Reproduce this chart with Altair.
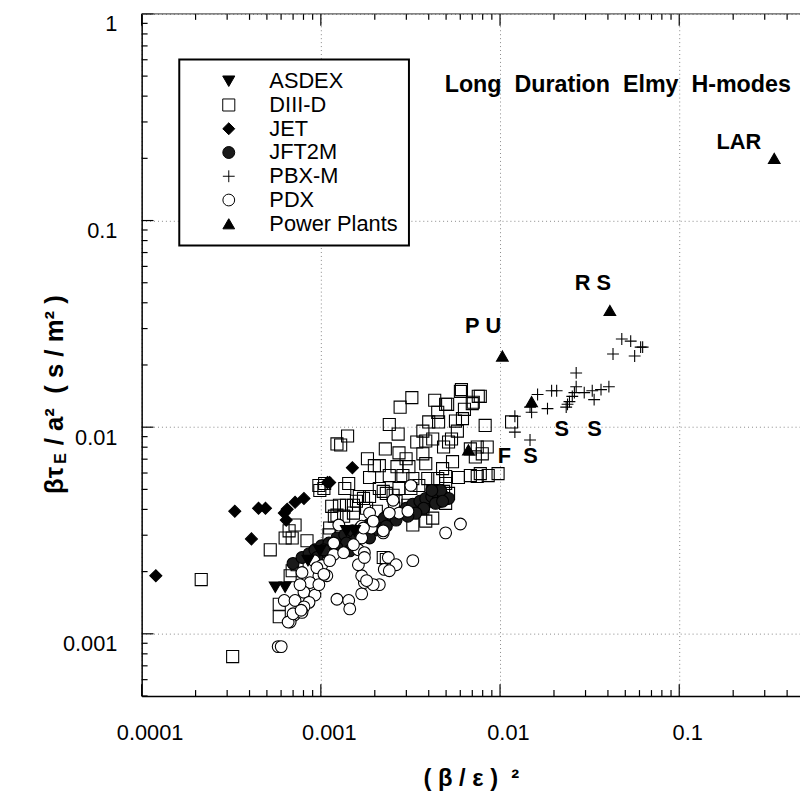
import math
import altair as alt
import pandas as pd

FONT = "Liberation Sans"
W, H = 665, 689

# ---------------- data ----------------
devices = ["ASDEX", "DIII-D", "JET", "JFT2M", "PBX-M", "PDX", "Power Plants"]

diii_x = [2.77e-3, 3.22e-3, 4.32e-3, 4.97e-3, 4.49e-3, 4.54e-3, 4.00e-3, 6.01e-3, 6.09e-3, 7.56e-3,
          7.00e-3, 6.33e-3, 6.17e-3, 5.64e-3, 8.26e-3, 0.0116, 2.41e-3, 2.70e-3, 3.71e-3, 3.43e-3,
          4.21e-3, 3.85e-3, 4.84e-3, 5.36e-3, 5.78e-3, 7.46e-3, 8.48e-3, 2.29e-3, 2.73e-3, 2.99e-3,
          3.71e-3, 3.85e-3, 5.43e-3, 4.78e-3, 4.97e-3, 5.86e-3, 7.46e-3, 8.59e-3, 9.75e-3, 1.41e-3,
          1.29e-3, 1.82e-3, 1.99e-3, 2.12e-3, 1.87e-3, 2.41e-3, 2.66e-3, 2.87e-3, 3.26e-3, 3.95e-3,
          4.49e-3, 4.97e-3, 1.43e-3, 9.75e-4, 1.05e-3, 1.36e-3, 1.64e-3, 1.87e-3, 2.12e-3, 2.32e-3,
          2.53e-3, 2.73e-3, 3.18e-3, 3.52e-3, 4.21e-3, 4.84e-3, 4.37e-3, 4.97e-3, 3.06e-3, 3.71e-3,
          1.15e-3, 1.27e-3, 1.52e-3, 1.80e-3, 2.04e-3, 3.85e-3, 3.26e-3, 4.21e-3, 9.87e-4, 1.04e-3,
          7.18e-4, 6.65e-4, 6.32e-4, 6.92e-4, 8.37e-4, 5.22e-4, 1.23e-3, 1.34e-3, 1.52e-3, 1.12e-3,
          1.11e-3, 7.37e-4, 6.92e-4, 6.74e-4, 5.86e-4, 5.86e-4, 3.22e-4, 2.15e-4, 2.23e-3, 2.32e-3,
          5.10e-3, 7.09e-3, 6.83e-3, 7.76e-3, 6.83e-3, 5.16e-3, 7.76e-3, 1.23e-3, 1.19e-3, 1.58e-3,
          1.73e-3, 1.39e-3, 2.63e-3, 2.23e-3, 5.16e-3, 7.28e-3, 7.96e-3, 3.10e-3]
diii_y = [0.0125, 0.0139, 0.0135, 0.0129, 0.0118, 0.0106, 0.0106, 0.0149, 0.0152, 0.0141,
          0.0130, 0.0122, 0.0110, 0.0107, 0.0102, 0.0106, 0.0103, 0.00926, 0.00957, 0.00848,
          0.00877, 0.00857, 0.00802, 0.00877, 0.00957, 0.00802, 0.00802, 0.00785, 0.00751, 0.00703,
          0.00743, 0.00666, 0.00681, 0.00630, 0.00577, 0.00571, 0.00577, 0.00583, 0.00596, 0.00906,
          0.00820, 0.00703, 0.00651, 0.00651, 0.00571, 0.00583, 0.00644, 0.00583, 0.00564, 0.00564,
          0.00564, 0.00534, 0.00534, 0.00522, 0.00534, 0.00505, 0.00462, 0.00462, 0.00505, 0.00478,
          0.00468, 0.00505, 0.00505, 0.00522, 0.00489, 0.00489, 0.00438, 0.00428, 0.00419, 0.00405,
          0.00414, 0.00419, 0.00419, 0.00405, 0.00392, 0.00351, 0.00336, 0.00363, 0.00494, 0.00505,
          0.00336, 0.00315, 0.00291, 0.00291, 0.00282, 0.00255, 0.00375, 0.00371, 0.00384, 0.00325,
          0.00301, 0.00216, 0.00202, 0.00191, 0.00139, 0.00121, 0.000776, 0.00183, 0.00234, 0.00229,
          0.0129, 0.0132, 0.00785, 0.00596, 0.00583, 0.00848, 0.0141, 0.00830, 0.00371, 0.00438,
          0.00452, 0.00419, 0.00438, 0.00489, 0.00478, 0.00718, 0.00743, 0.00644]

jft_x = [7.00e-4, 7.85e-4, 8.59e-4, 9.27e-4, 1.01e-3, 1.11e-3, 1.23e-3, 1.36e-3, 1.50e-3, 1.66e-3,
         1.84e-3, 2.04e-3, 2.26e-3, 2.47e-3, 2.70e-3, 2.99e-3, 3.26e-3, 3.57e-3, 3.85e-3, 4.16e-3,
         4.49e-3, 4.84e-3, 5.16e-3, 4.37e-3, 3.75e-3, 3.39e-3, 3.06e-3, 2.63e-3, 2.32e-3, 2.04e-3,
         1.80e-3, 1.58e-3, 1.39e-3, 1.23e-3, 1.08e-3, 9.51e-4, 4.66e-3, 4.16e-3, 4.78e-3, 1.87e-3,
         1.04e-3, 1.45e-3]
jft_y = [0.00219, 0.00234, 0.00244, 0.00255, 0.00267, 0.00275, 0.00291, 0.00301, 0.00315, 0.00325,
         0.00336, 0.00347, 0.00363, 0.00375, 0.00388, 0.00405, 0.00424, 0.00438, 0.00452, 0.00462,
         0.00473, 0.00462, 0.00452, 0.00428, 0.00405, 0.00384, 0.00371, 0.00355, 0.00332, 0.00318,
         0.00301, 0.00288, 0.00275, 0.00261, 0.00247, 0.00234, 0.00494, 0.00494, 0.00438, 0.00291,
         0.00255, 0.00252]

pdx_x = [3.18e-3, 2.56e-3, 2.73e-3, 3.06e-3, 1.87e-3, 2.41e-3, 1.69e-3, 1.91e-3, 2.23e-3, 1.69e-3,
         1.18e-3, 4.97e-3, 6.01e-3, 2.53e-3, 2.23e-3, 2.38e-3, 2.63e-3, 2.26e-3, 2.41e-3, 3.26e-3,
         2.12e-3, 1.18e-3, 9.15e-4, 1.01e-3, 9.75e-4, 1.08e-3, 7.85e-4, 8.70e-4, 8.05e-4, 9.27e-4,
         8.59e-4, 9.75e-4, 7.65e-4, 6.25e-4, 7.18e-4, 8.05e-4, 7.09e-4, 7.85e-4, 6.74e-4, 9.51e-4,
         1.62e-3, 1.75e-3, 1.23e-3, 1.43e-3, 1.45e-3, 1.69e-3, 1.75e-3, 1.69e-3, 1.96e-3, 1.12e-3,
         1.04e-3, 1.26e-3, 1.73e-3, 1.96e-3, 1.52e-3, 1.34e-3, 5.78e-4, 6.01e-4, 6.57e-4, 7.00e-4,
         7.76e-4, 1.62e-3, 1.75e-3, 1.80e-3]
pdx_y = [0.00522, 0.00424, 0.00384, 0.00392, 0.00384, 0.00384, 0.00332, 0.00325, 0.00308, 0.00291,
         0.00275, 0.00308, 0.00340, 0.00443, 0.00315, 0.00234, 0.00216, 0.00205, 0.00202, 0.00226,
         0.00173, 0.00242, 0.00226, 0.00214, 0.00191, 0.00191, 0.00198, 0.00177, 0.00159, 0.00154,
         0.00142, 0.00173, 0.00173, 0.00145, 0.00145, 0.00135, 0.00123, 0.00127, 0.00114, 0.00209,
         0.00255, 0.00247, 0.00147, 0.00145, 0.00132, 0.00156, 0.00177, 0.00191, 0.00173, 0.00226,
         0.00194, 0.00336, 0.00325, 0.00351, 0.00270, 0.00247, 0.000867, 0.000867, 0.00114, 0.00125,
         0.00130, 0.00216, 0.00234, 0.00181]

jet_x = [1.20e-4, 3.31e-4, 4.49e-4, 4.91e-4, 4.10e-4, 6.25e-4, 6.41e-4, 6.49e-4, 7.18e-4, 8.05e-4,
         1.09e-3, 1.12e-3, 1.50e-3]
jet_y = [0.00191, 0.00392, 0.00405, 0.00405, 0.00288, 0.00384, 0.00355, 0.00401, 0.00433, 0.00452,
         0.00540, 0.00540, 0.00637]

asdex_x = [5.57e-4, 6.32e-4, 8.48e-4, 9.87e-4, 1.39e-3, 1.54e-3]
asdex_y = [0.00168, 0.00168, 0.00226, 0.00252, 0.00315, 0.00315]

pbx_x = [0.0478, 0.0536, 0.0609, 0.0625, 0.0427, 0.0564, 0.0266, 0.0194, 0.0207, 0.0162,
         0.0266, 0.0260, 0.0253, 0.0295, 0.0327, 0.0366, 0.0405, 0.0335, 0.0244, 0.0238,
         0.0234, 0.0184, 0.0147, 0.0150, 0.0121, 0.0121, 0.0147]
pbx_y = [0.0267, 0.0261, 0.0244, 0.0244, 0.0226, 0.0221, 0.0183, 0.0150, 0.0150, 0.0144,
         0.0157, 0.0147, 0.0141, 0.0147, 0.0150, 0.0152, 0.0157, 0.0136, 0.0133, 0.0129,
         0.0125, 0.0123, 0.0125, 0.0118, 0.0113, 0.00946, 0.00867]

plant_x = [0.339, 0.0410, 0.0103, 0.0150, 0.00666]
plant_y = [0.200, 0.0367, 0.0221, 0.0133, 0.00776]

ann_text = ["LAR", "R\u00a0S", "P\u00a0U", "S\u00a0\u00a0\u00a0S", "F\u00a0\u00a0S"]
ann_x = [0.215, 0.0330, 0.00805, 0.0273, 0.01256]
ann_y = [0.239, 0.0500, 0.0308, 0.00978, 0.00727]

title_text = ["Long\u00a0 Duration\u00a0 Elmy\u00a0 H-modes"]
title_x = [0.0454]
title_y = [0.452]

x_min, x_max = 1e-4, 0.472
y_min, y_max = 5e-4, 1.0
x_major = [0.0001, 0.001, 0.01, 0.1]
y_major = [0.001, 0.01, 0.1, 1]
x_ticks = [m * 10.0 ** e for e in (-4, -3, -2) for m in range(1, 10)] + [0.1, 0.2, 0.3, 0.4]
y_ticks = [m * 1e-4 for m in range(5, 10)] + [m * 10.0 ** e for e in (-3, -2, -1) for m in range(1, 10)] + [1]
MAJOR_LEN, MINOR_LEN = 12, 6   # inward tick lengths in pixels

# ---------------- styling ----------------
shapes = ["triangle-down", "square", "diamond", "circle", "M-1,0L1,0M0,-1L0,1", "circle", "triangle-up"]
fills = ["black", "transparent", "black", "#1a1a1a", "transparent", "white", "black"]
sizes = [150, 140, 120, 120, 160, 140, 520]

series = [("DIII-D", diii_x, diii_y), ("JFT2M", jft_x, jft_y), ("PDX", pdx_x, pdx_y),
          ("JET", jet_x, jet_y), ("ASDEX", asdex_x, asdex_y), ("PBX-M", pbx_x, pbx_y),
          ("Power Plants", plant_x, plant_y)]
df = pd.concat([pd.DataFrame({"device": n, "x": xs, "y": ys}) for n, xs, ys in series],
               ignore_index=True)
ann_df = pd.DataFrame({"label": ann_text, "x": ann_x, "y": ann_y})
title_df = pd.DataFrame({"label": title_text, "x": title_x, "y": title_y})
frame_df = pd.DataFrame({"x0": [x_min], "x1": [x_max], "y0": [y_max]})

# tick segments (inward), lengths converted from pixels to the log scales
ppd_x = W / math.log10(x_max / x_min)
ppd_y = H / math.log10(y_max / y_min)


def tick_len(v):
    lv = math.log10(v)
    return MAJOR_LEN if abs(lv - round(lv)) < 1e-3 else MINOR_LEN


xt_df = pd.DataFrame({
    "v": x_ticks,
    "b0": [y_min] * len(x_ticks),
    "b1": [y_min * 10 ** (tick_len(v) / ppd_y) for v in x_ticks],
    "t0": [y_max] * len(x_ticks),
    "t1": [y_max / 10 ** (tick_len(v) / ppd_y) for v in x_ticks],
})
yt_df = pd.DataFrame({
    "v": y_ticks,
    "l0": [x_min] * len(y_ticks),
    "l1": [x_min * 10 ** (tick_len(v) / ppd_x) for v in y_ticks],
})

xscale = alt.Scale(type="log", domain=[x_min, x_max])
yscale = alt.Scale(type="log", domain=[y_min, y_max])

x_axis_main = alt.Axis(orient="bottom", values=x_major, format="~g", ticks=False, tickSize=0,
                       labelFont=FONT, labelFontSize=22, labelColor="black", labelPadding=27,
                       labelOffset=8, labelFlush=False, labelOverlap=False,
                       domain=True, domainColor="black", domainWidth=1.5,
                       grid=True, gridColor="#888888", gridDash=[1, 3], gridWidth=1,
                       title="( β / ε )\u00a0\u00a0²", titleFont=FONT, titleFontSize=24,
                       titleFontWeight="bold", titleColor="black", titleY=83, titleBaseline="middle")
y_axis_main = alt.Axis(orient="left", values=y_major, format="~g", ticks=False, tickSize=0,
                       labelFont=FONT, labelFontSize=22, labelColor="black", labelPadding=25,
                       labelOffset=10, labelFlush=False, labelOverlap=False,
                       domain=True, domainColor="black", domainWidth=1.5,
                       grid=True, gridColor="#888888", gridDash=[1, 3], gridWidth=1,
                       title="βτ\u00a0\u00a0 / a²\u00a0 ( s / m² )", titleFont=FONT, titleFontSize=26,
                       titleFontWeight="bold", titleColor="black", titleX=-88, titleY=384,
                       titleAngle=270, titleBaseline="middle", titleAlign="center")


def Xn(field):
    return alt.X(f"{field}:Q", scale=xscale, axis=None)


def Yn(field):
    return alt.Y(f"{field}:Q", scale=yscale, axis=None)


legend = alt.Legend(title=None, orient="none", legendX=38, legendY=46, direction="vertical",
                    fillColor="white", strokeColor="black", padding=11, symbolOffset=28,
                    labelOffset=30, labelFont=FONT, labelFontSize=22, labelColor="black",
                    rowPadding=2, symbolStrokeWidth=1)

points = alt.Chart(df).mark_point(filled=True, strokeWidth=1.1, opacity=1).encode(
    x=alt.X("x:Q", scale=xscale, axis=x_axis_main),
    y=alt.Y("y:Q", scale=yscale, axis=y_axis_main),
    shape=alt.Shape("device:N", scale=alt.Scale(domain=devices, range=shapes), legend=legend),
    fill=alt.Fill("device:N", scale=alt.Scale(domain=devices, range=fills), legend=legend),
    stroke=alt.Stroke("device:N", scale=alt.Scale(domain=devices, range=["black"] * 7), legend=legend),
    size=alt.Size("device:N", scale=alt.Scale(domain=devices, range=sizes), legend=legend),
)

rule_style = dict(color="black", strokeWidth=1.2, opacity=1)
ticks_bottom = alt.Chart(xt_df).mark_rule(**rule_style).encode(x=Xn("v"), y=Yn("b0"), y2="b1:Q")
ticks_top = alt.Chart(xt_df).mark_rule(**rule_style).encode(x=Xn("v"), y=Yn("t0"), y2="t1:Q")
ticks_left = alt.Chart(yt_df).mark_rule(**rule_style).encode(y=Yn("v"), x=Xn("l0"), x2="l1:Q")

top_frame = alt.Chart(frame_df).mark_rule(color="#333333", strokeWidth=1).encode(
    x=Xn("x0"), x2="x1:Q", y=Yn("y0"))

ann = alt.Chart(ann_df).mark_text(font=FONT, fontSize=22, fontWeight="bold", color="black").encode(
    x=Xn("x"), y=Yn("y"), text="label:N")

title_layer = alt.Chart(title_df).mark_text(font=FONT, fontSize=23.5, fontWeight="bold",
                                            color="black").encode(
    x=Xn("x"), y=Yn("y"), text="label:N")

sub_df = pd.DataFrame({"label": ["E"]})
sub = alt.Chart(sub_df).mark_text(font=FONT, fontSize=16, fontWeight="bold", color="black",
                                  angle=270).encode(
    x=alt.value(-81), y=alt.value(449), text="label:N")

chart = alt.layer(points, ticks_bottom, ticks_top, ticks_left, top_frame, ann, title_layer,
                  sub).resolve_axis(
    x="independent", y="independent"
).properties(
    width=W, height=H,
    padding={"left": 135, "top": 2, "right": 0, "bottom": 94},
    autosize=alt.AutoSizeParams(type="none"),
    background="white",
).configure_view(stroke=None).configure_legend(strokeWidth=2)

chart.save("out.html", embed_options={"renderer": "svg", "actions": False})
